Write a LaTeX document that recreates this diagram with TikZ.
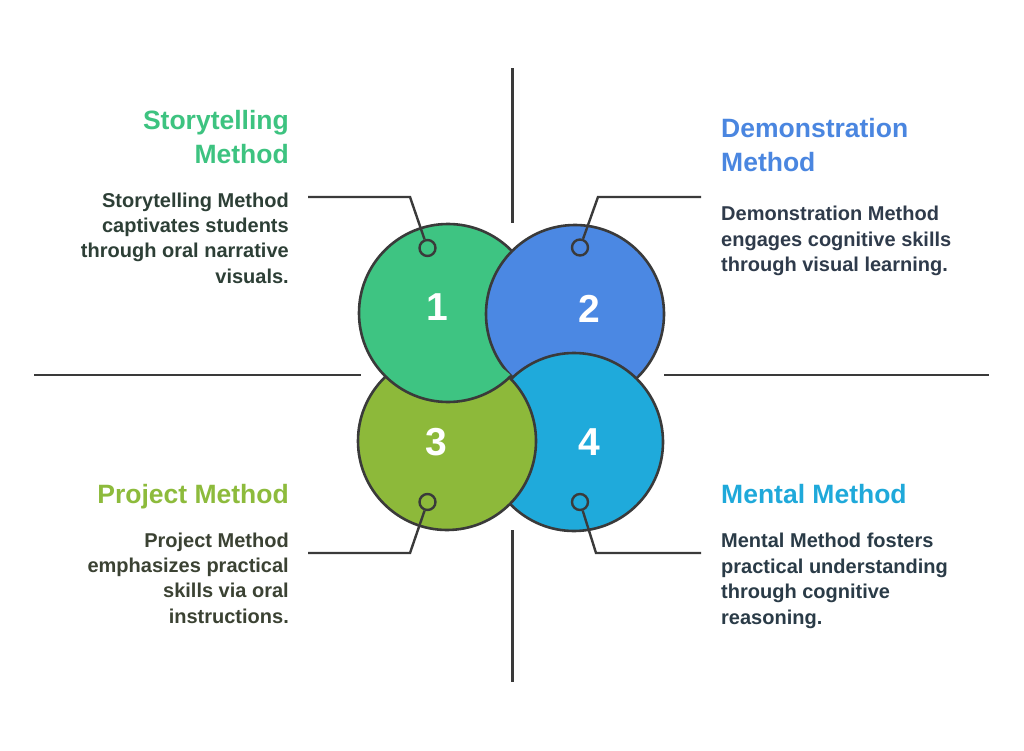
\documentclass[tikz,border=0pt]{standalone}
\usepackage{fontspec}
\setmainfont{Liberation Sans}
\definecolor{cA}{HTML}{3EC482}
\definecolor{cB}{HTML}{4B88E3}
\definecolor{cC}{HTML}{8DB93A}
\definecolor{cD}{HTML}{1FAADB}
\definecolor{tA}{HTML}{3DC380}
\definecolor{tB}{HTML}{4A86E0}
\definecolor{tC}{HTML}{8DBB3C}
\definecolor{tD}{HTML}{1FA9DA}
\definecolor{bA}{HTML}{2D3F36}
\definecolor{bB}{HTML}{2F3B4B}
\definecolor{bC}{HTML}{3B4233}
\definecolor{bD}{HTML}{2A3B47}
\definecolor{edge}{HTML}{3A3A3A}
\begin{document}
\begin{tikzpicture}[x=1pt,y=-1pt,
  bigc/.style={circle, draw=edge, line width=2.6pt, minimum size=178pt, inner sep=0pt},
  dot/.style={circle, draw=edge, line width=2.4pt, minimum size=16pt, inner sep=0pt},
  num/.style={text=white, font=\fontsize{39}{39}\selectfont\bfseries, inner sep=0pt},
  axis/.style={draw=edge, line width=2.6pt},
  conn/.style={draw=edge, line width=2.4pt},
  ttl/.style={font=\fontsize{26.5}{34}\selectfont\bfseries, inner sep=0pt},
  body/.style={font=\fontsize{20}{25.4}\selectfont\bfseries, inner sep=0pt}]
\useasboundingbox (0,0) rectangle (1024,751);
\fill[white] (0,0) rectangle (1024,751);
% axis lines
\coordinate (vt1) at (512.3,68.3);
\coordinate (vt2) at (512.3,223);
\coordinate (vb1) at (512.3,530);
\coordinate (vb2) at (512.3,682.3);
\coordinate (hl1) at (34,375);
\coordinate (hl2) at (361,375);
\coordinate (hr1) at (664.3,375);
\coordinate (hr2) at (989.3,375);
\draw[axis] (vt1) -- (vt2);
\draw[axis] (vb1) -- (vb2);
\draw[axis] (hl1) -- (hl2);
\draw[axis] (hr1) -- (hr2);
% circles
\node[bigc, fill=cA] (c1) at (448,313) {};
\node[bigc, fill=cB] (c2) at (575,314) {};
\node[bigc, fill=cD] (c4) at (574,442) {};
\node[bigc, fill=cC] (c3) at (447,441) {};
\begin{scope}
  \clip (c3.center) circle[radius=91.5pt];
  \node[bigc, fill=cA] at (c1.center) {};
\end{scope}
% numbers
\node[num, anchor=center] (n1) at (437,307.5) {1};
\node[num, anchor=center] (n2) at (589,309) {2};
\node[num, anchor=center] (n3) at (436,441.7) {3};
\node[num, anchor=center] (n4) at (589,441.7) {4};
% small circles
\node[dot] (d1) at (427.5,248) {};
\node[dot] (d2) at (580,247.5) {};
\node[dot] (d3) at (427.5,502) {};
\node[dot] (d4) at (580,502) {};
% connectors
\coordinate (p1) at (308,197);
\coordinate (q1) at (410,197);
\coordinate (p2) at (701,197);
\coordinate (q2) at (598,197);
\coordinate (p3) at (308,553);
\coordinate (q3) at (410,553);
\coordinate (p4) at (701,553);
\coordinate (q4) at (596,553);
\draw[conn] (p1) -- (q1) -- (d1);
\draw[conn] (p2) -- (q2) -- (d2);
\draw[conn] (p3) -- (q3) -- (d3);
\draw[conn] (p4) -- (q4) -- (d4);
% texts (base anchor = baseline of last line)
\node[ttl, text=tA, anchor=base east, align=right] (tt1) at (289,163.3) {Storytelling\\Method};
\node[body, text=bA, anchor=base east, align=right] (tb1) at (289,283.3) {Storytelling Method\\captivates students\\through oral narrative\\visuals.};
\node[ttl, text=tB, anchor=base west, align=left] (tt2) at (721,171.7) {Demonstration\\Method};
\node[body, text=bB, anchor=base west, align=left] (tb2) at (721,271.7) {Demonstration Method\\engages cognitive skills\\through visual learning.};
\node[ttl, text=tC, anchor=base east, align=right] (tt3) at (289,503.3) {Project Method};
\node[body, text=bC, anchor=base east, align=right] (tb3) at (289,623.3) {Project Method\\emphasizes practical\\skills via oral\\instructions.};
\node[ttl, text=tD, anchor=base west, align=left] (tt4) at (721,503.3) {Mental Method};
\node[body, text=bD, anchor=base west, align=left] (tb4) at (721,624) {Mental Method fosters\\practical understanding\\through cognitive\\reasoning.};
\end{tikzpicture}
\end{document}
